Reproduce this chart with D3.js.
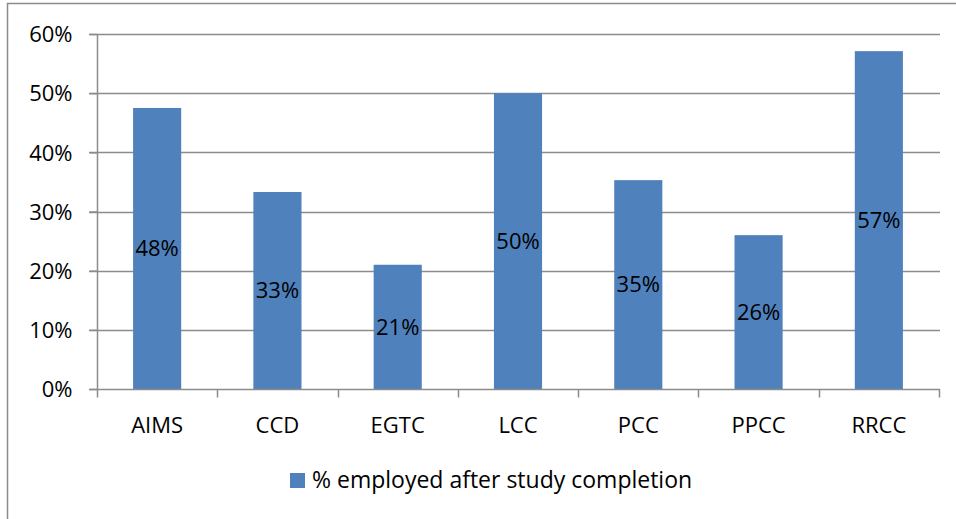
<!DOCTYPE html>
<html><head><meta charset="utf-8">
<script src="https://cdn.jsdelivr.net/npm/d3@7/dist/d3.min.js"></script>
<style>body{margin:0;background:#fff}svg{display:block}text{font-family:"Open Sans",sans-serif;fill:#000}</style>
</head><body><svg id="c" width="956" height="519"></svg>
<script>
const categories = ["AIMS","CCD","EGTC","LCC","PCC","PPCC","RRCC"];
const values = [0.475,0.333,0.21,0.50,0.353,0.26,0.571];
const dataLabels = ["48%","33%","21%","50%","35%","26%","57%"];
const yTicks = [0,0.1,0.2,0.3,0.4,0.5,0.6];
const seriesName = "% employed after study completion";

const svg = d3.select("#c");
const x=d3.scaleBand().domain(categories).range([97,939]).paddingInner(0.6).paddingOuter(0.3);
const xb=d3.scaleBand().domain(categories).range([97,939]);
const y=d3.scaleLinear().domain([0,0.6]).range([389,34]);
const FS="22px";

svg.append("path").attr("d","M7.5,519 V3.5 H956").attr("fill","none").attr("stroke","#8c8c8c").attr("stroke-width",1.5);

svg.append("g").selectAll("line").data(yTicks.slice(1)).join("line")
 .attr("x1",89).attr("x2",940).attr("y1",d=>Math.round(y(d))+0.5).attr("y2",d=>Math.round(y(d))+0.5)
 .attr("stroke","#8c8c8c").attr("stroke-width",1.5);

svg.append("g").selectAll("rect").data(values).join("rect")
 .attr("x",(d,i)=>x(categories[i])).attr("width",x.bandwidth())
 .attr("y",d=>y(d)).attr("height",d=>y(0)-y(d)).attr("fill","#4F81BD");

const ya=d3.axisLeft(y).tickValues(yTicks).tickFormat(d3.format(".0%")).tickSize(8).tickPadding(17);
const yg=svg.append("g").attr("transform","translate(97.5,0)").call(ya);
yg.select(".domain").attr("stroke","#8c8c8c").attr("stroke-width",1.5).attr("d","M0,34V389.5");
yg.selectAll(".tick line").attr("stroke","#8c8c8c").attr("stroke-width",1.5);
yg.selectAll(".tick text").style("font-size",FS).attr("fill","#000").attr("dy","0.35em");

const xg=svg.append("g").attr("transform","translate(0,389.5)");
xg.append("line").attr("x1",89).attr("x2",940).attr("stroke","#8c8c8c").attr("stroke-width",1.5);
const tickPos=categories.map(c=>xb(c)).concat([xb.range()[1]]);
xg.selectAll("line.t").data(tickPos).join("line").attr("class","t")
 .attr("x1",d=>Math.round(d)+0.5).attr("x2",d=>Math.round(d)+0.5).attr("y1",0).attr("y2",8)
 .attr("stroke","#8c8c8c").attr("stroke-width",1.5);
xg.selectAll("text").data(categories).join("text")
 .attr("x",d=>xb(d)+xb.bandwidth()/2).attr("y",43).attr("text-anchor","middle")
 .style("font-size",FS).text(d=>d);

svg.append("g").selectAll("text").data(values).join("text")
 .attr("x",(d,i)=>x(categories[i])+x.bandwidth()/2)
 .attr("y",d=>(y(d)+y(0))/2).attr("dy","0.35em").attr("text-anchor","middle")
 .style("font-size",FS).text((d,i)=>dataLabels[i]);

const lg=svg.append("g");
lg.append("rect").attr("x",290).attr("y",473).attr("width",15).attr("height",15).attr("fill","#4F81BD");
lg.append("text").attr("x",312).attr("y",488).style("font-size","23px").text(seriesName);
</script></body></html>
